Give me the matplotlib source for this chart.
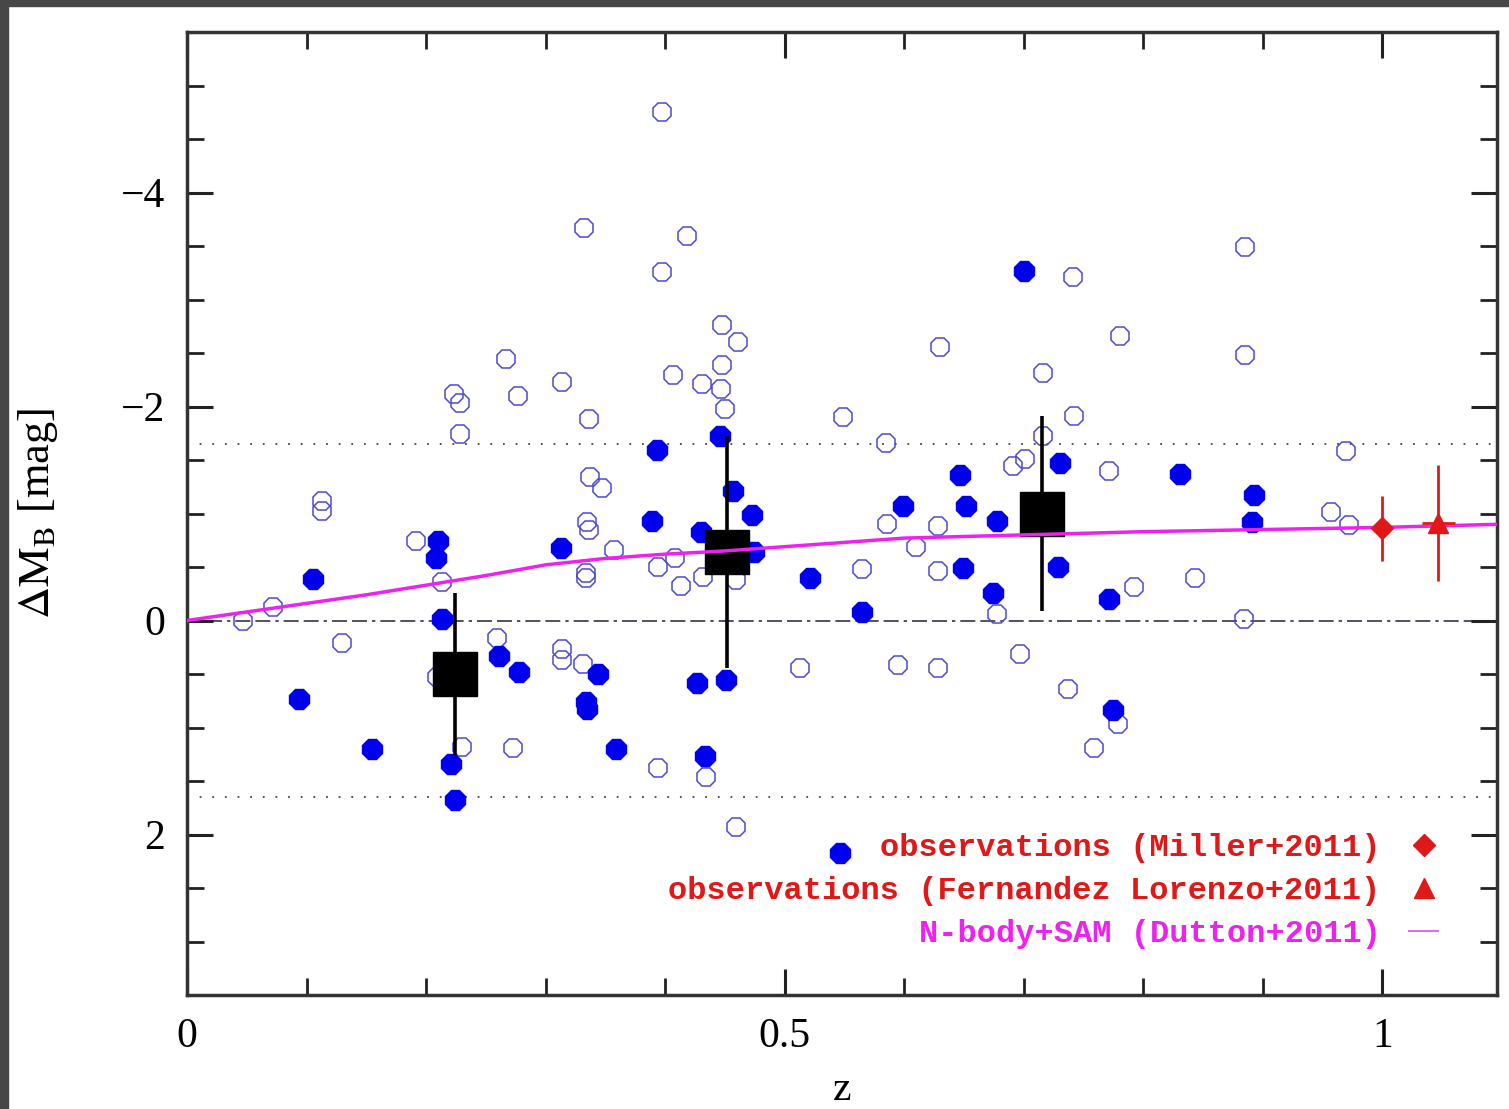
import numpy as np
import matplotlib
matplotlib.use("Agg")
import matplotlib.pyplot as plt
from matplotlib.ticker import MultipleLocator, FuncFormatter
from matplotlib.patches import Rectangle

plt.rcParams['font.family'] = ['Liberation Serif', 'DejaVu Serif']
plt.rcParams['mathtext.fontset'] = 'stix'

# open symbols (individual galaxies)
open_z = [0.047, 0.072, 0.113, 0.113, 0.130, 0.192, 0.213, 0.209, 0.223, 0.228,
          0.228, 0.230, 0.267, 0.277, 0.259, 0.273, 0.314, 0.314, 0.314, 0.332,
          0.336, 0.337, 0.347, 0.335, 0.336, 0.334, 0.334, 0.331, 0.357, 0.397,
          0.397, 0.418, 0.407, 0.394, 0.408, 0.413, 0.394, 0.431, 0.448, 0.461,
          0.448, 0.447, 0.450, 0.432, 0.434, 0.459, 0.459, 0.549, 0.513, 0.565,
          0.586, 0.585, 0.595, 0.610, 0.628, 0.630, 0.628, 0.628, 0.678, 0.691,
          0.701, 0.716, 0.716, 0.697, 0.741, 0.742, 0.737, 0.771, 0.781, 0.759,
          0.779, 0.792, 0.843, 0.885, 0.885, 0.884, 0.970, 0.957, 0.972]
open_dm = [0.00, -0.13, -1.12, -1.02, 0.21, -0.74, -0.36, 0.53, -2.12, -2.03,
           -1.74, 1.18, -2.44, -2.10, 0.16, 1.19, -2.23, 0.27, 0.37, -3.67,
           -1.88, -1.34, -1.24, -0.92, -0.85, -0.44, -0.40, 0.41, -0.66, -4.75,
           -3.26, -3.59, -2.29, -0.50, -0.58, -0.32, 1.38, -2.21, -2.76, -2.60,
           -2.39, -2.16, -1.98, -0.41, 1.46, -0.38, 1.93, -1.90, 0.44, -0.48,
           -0.90, -1.66, 0.42, -0.69, -0.88, -2.56, -0.46, 0.44, -0.06, -1.44,
           -1.51, -1.72, -2.31, 0.31, -3.21, -1.91, 0.64, -1.40, -2.66, 1.19,
           0.97, -0.31, -0.40, -3.49, -2.48, -0.01, -1.58, -1.01, -0.89]

# filled symbols
fill_z = [0.105, 0.094, 0.155, 0.210, 0.208, 0.213, 0.221, 0.224, 0.261, 0.278,
          0.313, 0.334, 0.335, 0.344, 0.359, 0.393, 0.389, 0.430, 0.446, 0.457,
          0.473, 0.474, 0.427, 0.451, 0.433, 0.521, 0.565, 0.599, 0.546, 0.647,
          0.652, 0.649, 0.678, 0.674, 0.700, 0.730, 0.729, 0.771, 0.775, 0.831,
          0.893, 0.891]
fill_dm = [-0.39, 0.73, 1.20, -0.74, -0.58, -0.01, 1.34, 1.68, 0.33, 0.48,
           -0.68, 0.76, 0.83, 0.50, 1.20, -1.59, -0.93, -0.83, -1.72, -1.21,
           -0.99, -0.64, 0.58, 0.56, 1.27, -0.40, -0.08, -1.07, 2.17, -1.36,
           -1.07, -0.49, -0.93, -0.26, -3.27, -1.47, -0.50, -0.20, 0.84, -1.37,
           -1.17, -0.92]

# binned means
bin_z = [0.224, 0.452, 0.715]
bin_dm = [0.50, -0.64, -1.00]
bin_err = [0.76, 1.08, 0.91]

# observations
miller_z, miller_dm, miller_err = [1.0], [-0.86], [0.30]
fl_z, fl_dm, fl_err = [1.047], [-0.91], [0.54]

# model curve
sam_z = [0, 0.05, 0.1, 0.15, 0.2, 0.25, 0.3, 0.35, 0.4, 0.45, 0.5, 0.6, 0.7,
         0.8, 0.9, 1.0, 1.1]
sam_dm = [0, -0.08, -0.16, -0.24, -0.33, -0.42, -0.52, -0.58, -0.62, -0.65,
          -0.69, -0.77, -0.80, -0.83, -0.85, -0.87, -0.90]

sigma_lines = [-1.65, 1.65]

fig = plt.figure(figsize=(15.09, 11.09), dpi=100)
fig.patches.append(Rectangle((0, 0), 8 / 1509, 1, transform=fig.transFigure,
                             color='#474747', zorder=-10))
fig.patches.append(Rectangle((0, 1 - 6 / 1109), 1, 6 / 1109, transform=fig.transFigure,
                             color='#474747', zorder=-10))
ax = fig.add_axes([187 / 1509, 1 - 995 / 1109, 1310 / 1509, 963 / 1109])

ax.axhline(0, color='#333344', lw=1.2, dashes=(9, 3, 9, 3, 2, 3), zorder=1)
for yv in sigma_lines:
    ax.axhline(yv, color='#444444', lw=1.3, dashes=(1, 6), zorder=1)

ax.plot(open_z, open_dm, '8', ms=14.5, mfc='none', mec='#4a4ad0', mew=1.1, zorder=2)
ax.plot(fill_z, fill_dm, '8', ms=15.5, color='#0000ee', zorder=3)

ax.errorbar(bin_z, bin_dm, yerr=bin_err, fmt='s', ms=31, color='black',
            elinewidth=2.6, capsize=0, zorder=4)

ax.plot(sam_z, sam_dm, color='#ee22ee', lw=2.5, zorder=5)

ax.errorbar(miller_z, miller_dm, yerr=miller_err, fmt='none', ecolor='#e01818',
            elinewidth=2, zorder=6)
ax.errorbar(fl_z, fl_dm, yerr=fl_err, xerr=0.014, fmt='none', ecolor='#e01818',
            elinewidth=2, zorder=6)
m1, = ax.plot(miller_z, miller_dm, 'D', ms=11, color='#e01818', zorder=7)
m2, = ax.plot(fl_z, fl_dm, '^', ms=15, color='#e01818', zorder=7)
# thin model line for the legend key
m3, = ax.plot([], [], color='#e070e0', lw=1.5)

ax.set_xlim(0, 1.096)
ax.set_ylim(3.5, -5.5)

ax.xaxis.set_major_locator(MultipleLocator(0.5))
ax.xaxis.set_minor_locator(MultipleLocator(0.1))
ax.yaxis.set_major_locator(MultipleLocator(2))
ax.yaxis.set_minor_locator(MultipleLocator(0.5))
ax.xaxis.set_major_formatter(FuncFormatter(lambda v, p: '{:g}'.format(v)))
ax.tick_params(which='both', direction='in', top=True, right=True,
               color='#222222', labelsize=30, pad=16)
ax.tick_params(which='major', length=19, width=2.2)
ax.tick_params(which='minor', length=12, width=2.0)
for s in ax.spines.values():
    s.set_linewidth(2.5)
    s.set_color('#333333')

ax.set_xlabel('z', fontsize=30)
ax.xaxis.set_label_coords(0.5, -0.078)
ax.set_ylabel(r'$\Delta\mathrm{M}_\mathrm{B}$ [mag]', fontsize=32)
ax.yaxis.set_label_coords(-0.097, 0.5)

leg = ax.legend([m1, m2, m3],
                ['observations (Miller+2011)', 'observations (Fernandez Lorenzo+2011)',
                 'N-body+SAM (Dutton+2011)'],
                loc='lower right', bbox_to_anchor=(0.955, 0.048), frameon=False,
                markerfirst=False,
                prop={'family': 'Liberation Mono', 'size': 23, 'weight': 'bold'},
                labelcolor=['#e01818', '#e01818', '#ee22ee'], handlelength=0.9,
                handletextpad=0.9, labelspacing=0.40, borderpad=0, borderaxespad=0)

fig.savefig('out.png', dpi=100)
